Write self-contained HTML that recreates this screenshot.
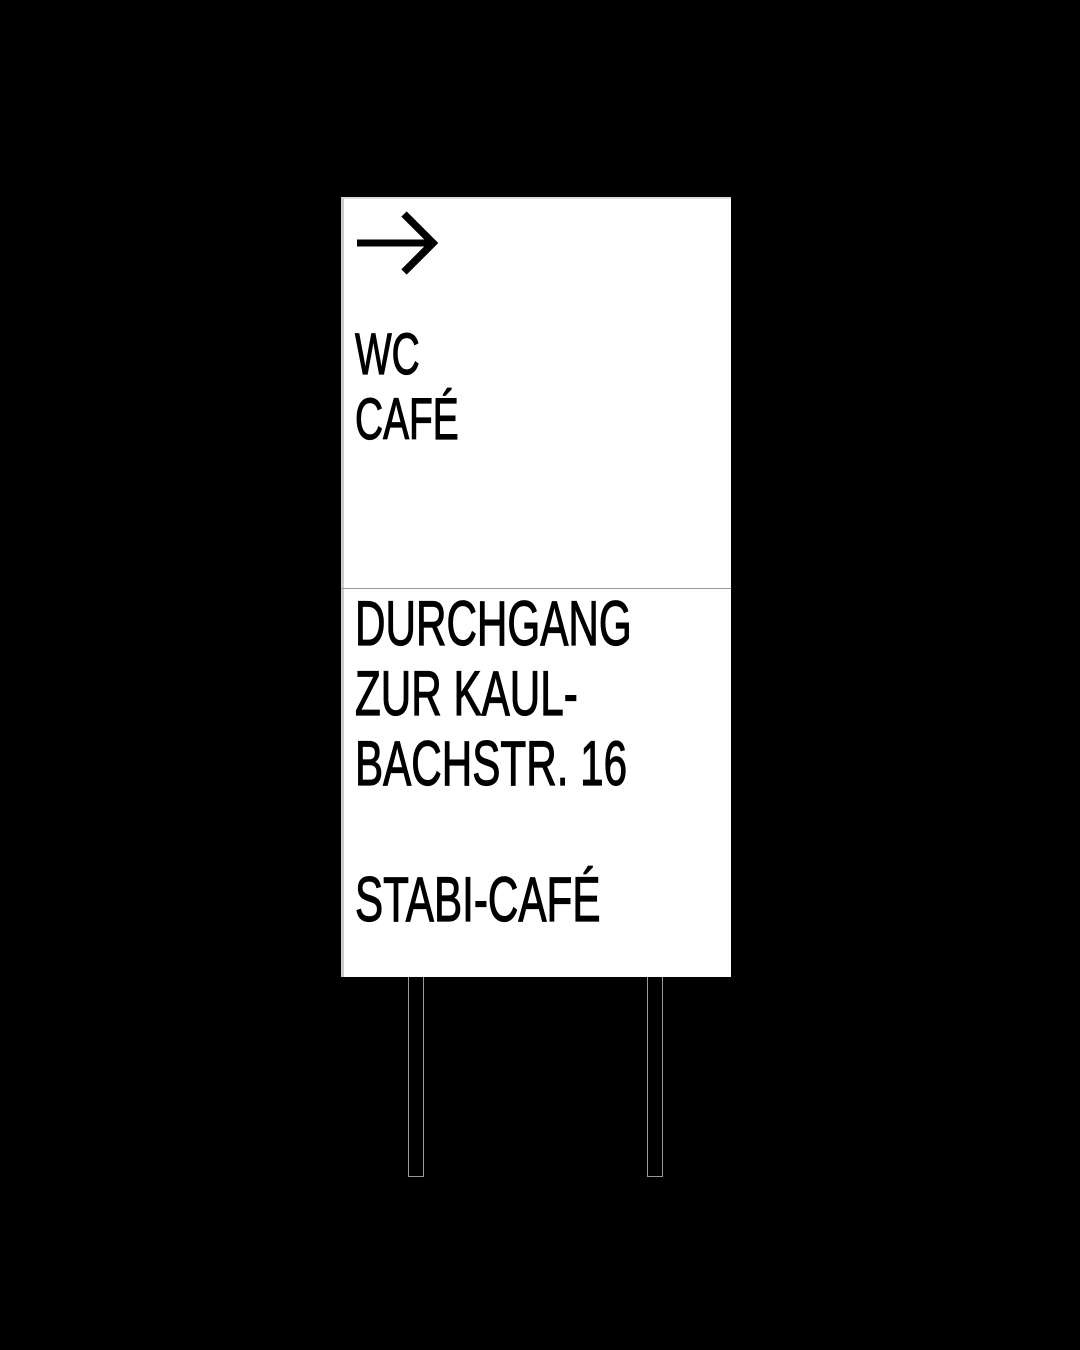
<!DOCTYPE html>
<html><head><style>
body{margin:0;width:1080px;height:1350px;background:#000;position:relative;overflow:hidden}
.sign{position:absolute;left:341px;top:197px;width:390px;height:780px;background:#fff;border-left:3px solid #ccc;border-top:2px solid #ddd;box-sizing:border-box}
.div{position:absolute;left:341px;top:588px;width:390px;height:1px;background:#999}
.leg{position:absolute;top:977px;width:14px;height:199px;border:1px solid #999;border-top:none;background:#000}
.t{position:absolute;left:355px;font-family:"Liberation Sans Narrow","Liberation Sans",sans-serif;line-height:1;white-space:nowrap;color:#000;transform:scaleX(0.67);transform-origin:0 0;-webkit-text-stroke:1.2px #000}
.s{font-size:58px}.b{font-size:63px}
</style></head><body>
<div class="sign"></div>
<div class="div"></div>
<div class="leg" style="left:408px"></div>
<div class="leg" style="left:647px"></div>
<svg style="position:absolute;left:0;top:0" width="1080" height="1350">
<line x1="357" y1="243" x2="433" y2="243" stroke="#000" stroke-width="7"/>
<polyline points="404,214 433,243 404,272" fill="none" stroke="#000" stroke-width="7.5"/>
</svg>
<div class="t s" style="top:326px">WC</div>
<div class="t s" style="top:391px">CAFÉ</div>
<div class="t b" style="top:593px">DURCHGANG</div>
<div class="t b" style="top:663px">ZUR KAUL-</div>
<div class="t b" style="top:733px">BACHSTR. 16</div>
<div class="t b" style="top:869px">STABI-CAFÉ</div>
</body></html>
